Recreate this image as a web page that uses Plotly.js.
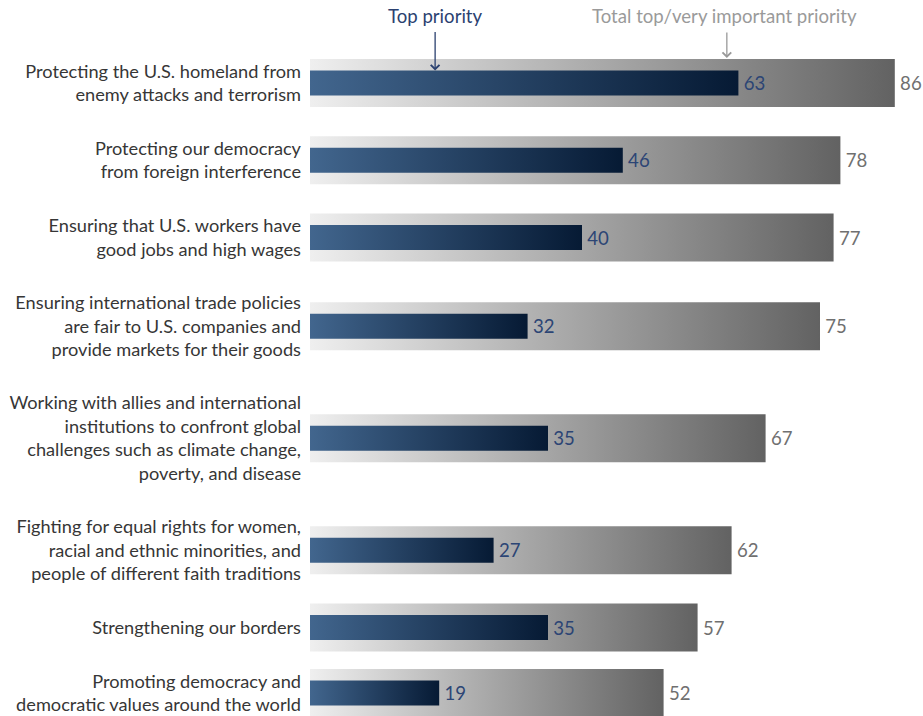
<!DOCTYPE html>
<html><head><meta charset="utf-8">
<script src="https://cdn.plot.ly/plotly-3.0.1.min.js"></script>
<style>html,body{margin:0;padding:0;background:#fff}</style>
</head><body><div id="chart" style="width:923px;height:716px"></div>
<script>
const categories = [
  "Protecting the U.S. homeland from<br>enemy attacks and terrorism",
  "Protecting our democracy<br>from foreign interference",
  "Ensuring that U.S. workers have<br>good jobs and high wages",
  "Ensuring international trade policies<br>are fair to U.S. companies and<br>provide markets for their goods",
  "Working with allies and international<br>institutions to confront global<br>challenges such as climate change,<br>poverty, and disease",
  "Fighting for equal rights for women,<br>racial and ethnic minorities, and<br>people of different faith traditions",
  "Strengthening our borders",
  "Promoting democracy and<br>democratic values around the world"
];
const totalImportant = [86, 78, 77, 75, 67, 62, 57, 52];
const topPriority = [63, 46, 40, 32, 35, 27, 35, 19];
const seriesNames = ["Total top/very important priority", "Top priority"];

// layout: rows get more room when their label has more lines
const LINE = 23.2, PAD = 30.8, HEADER = 44.5;
const lines = categories.map(c => c.split('<br>').length);
const slots = lines.map(n => n * LINE + PAD);
const pos = [];
let acc = HEADER;
slots.forEach((s, i) => { acc += (i ? slots[i - 1] / 2 : 0) + s / 2; pos.push(acc); });

const FONT = 'Lato, "Open Sans", sans-serif';
const FS = 18.2;
const FS2 = 18.6;
const NAVY = '#2b4170';
const GRAYTXT = '#9a9a9a';

const data = [
  {
    type: 'bar', orientation: 'h', name: seriesNames[0],
    x: totalImportant, y: pos, width: 48,
    marker: { color: '#a0a0a0', line: { width: 0 } },
    text: totalImportant.map(v => '\u2009' + v), textposition: 'outside',
    textfont: { family: FONT, size: FS2, color: '#707070' },
    constraintext: 'none', cliponaxis: false, hoverinfo: 'skip'
  },
  {
    type: 'bar', orientation: 'h', name: seriesNames[1],
    x: topPriority, y: pos, width: 25,
    marker: { color: '#24446a', line: { width: 0 } },
    text: topPriority.map(v => '\u2009' + v), textposition: 'outside',
    textfont: { family: FONT, size: FS2, color: '#2c4575' },
    constraintext: 'none', cliponaxis: false, hoverinfo: 'skip'
  }
];

const layout = {
  width: 923, height: 716,
  margin: { l: 310, r: 0, t: 0, b: 0 },
  paper_bgcolor: '#ffffff', plot_bgcolor: '#ffffff',
  barmode: 'overlay', showlegend: false,
  font: { family: FONT, size: FS, color: '#363636' },
  xaxis: { range: [0, 613 / 6.8], visible: false, fixedrange: true },
  yaxis: {
    range: [716, 0], tickvals: pos, ticktext: categories,
    showgrid: false, zeroline: false, showline: false,
    ticks: '', ticklabelstandoff: 8,
    tickfont: { family: FONT, size: FS, color: '#363636' }, fixedrange: true
  },
  annotations: [
    { xref: 'x', yref: 'y', x: 18.4, y: 16, text: seriesNames[1], showarrow: false,
      font: { family: FONT, size: FS2, color: NAVY } },
    { xref: 'x', yref: 'y', x: 18.4, y: pos[0] - 12.5, text: '', showarrow: true,
      ax: 0, ay: -40, arrowhead: 4, arrowsize: 1.3, arrowwidth: 1.3, arrowcolor: NAVY },
    { xref: 'x', yref: 'y', x: 61.0, y: 16, text: seriesNames[0], showarrow: false,
      font: { family: FONT, size: FS2, color: GRAYTXT } },
    { xref: 'x', yref: 'y', x: 61.3, y: pos[0] - 25, text: '', showarrow: true,
      ax: 0, ay: -27, arrowhead: 4, arrowsize: 1.3, arrowwidth: 1.3, arrowcolor: GRAYTXT }
  ]
};

Plotly.newPlot('chart', data, layout, { staticPlot: true, displayModeBar: false }).then(gd => {
  const NS = 'http://www.w3.org/2000/svg';
  const svg = gd.querySelector('svg.main-svg');
  let defs = svg.querySelector('defs');
  if (!defs) { defs = document.createElementNS(NS, 'defs'); svg.insertBefore(defs, svg.firstChild); }
  function grad(id, stops) {
    const g = document.createElementNS(NS, 'linearGradient');
    g.setAttribute('id', id);
    g.setAttribute('x1', '0'); g.setAttribute('y1', '0');
    g.setAttribute('x2', '1'); g.setAttribute('y2', '0');
    stops.forEach(([o, c]) => {
      const s = document.createElementNS(NS, 'stop');
      s.setAttribute('offset', o); s.setAttribute('stop-color', c);
      g.appendChild(s);
    });
    defs.appendChild(g);
  }
  grad('gGray', [[0, '#efefef'], [1, '#626262']]);
  grad('gBlue', [[0, '#42668e'], [1, '#061a34']]);
  const traces = gd.querySelectorAll('.barlayer .trace');
  traces[0].querySelectorAll('.point path').forEach(p => { p.style.fill = 'url(#gGray)'; });
  traces[1].querySelectorAll('.point path').forEach(p => { p.style.fill = 'url(#gBlue)'; });
});
</script>
</body></html>
